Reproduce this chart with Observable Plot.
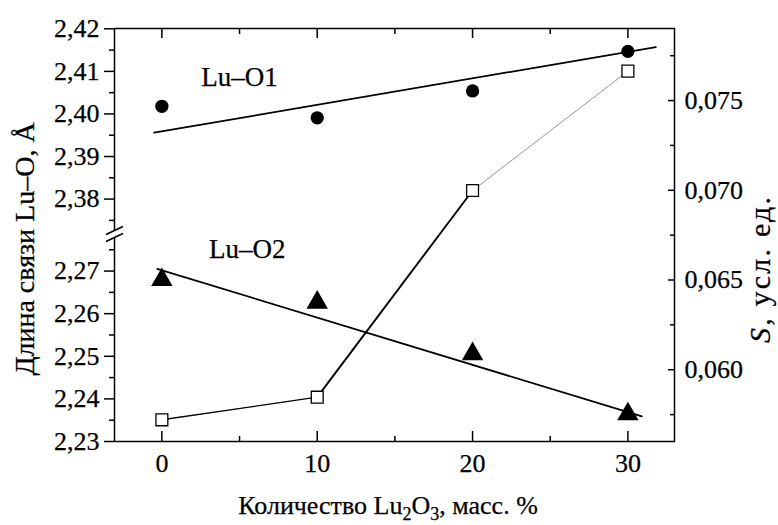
<!DOCTYPE html>
<html><head><meta charset="utf-8">
<script src="https://cdn.jsdelivr.net/npm/d3@7"></script>
<script src="https://cdn.jsdelivr.net/npm/@observablehq/plot@0.6"></script>
<style>
body{margin:0;background:#fff}
#wrap{position:relative;width:778px;height:525px}
#wrap svg{position:absolute;left:0;top:0}
</style>
</head><body><div id="wrap"></div>
<script>
// ---- data ----
const content = [0, 10, 20, 30];                       // Lu2O3, mass %
const luO1 = [2.4018, 2.3991, 2.4054, 2.4147];          // Lu–O1 length, Å
const luO2 = [2.2685, 2.2632, 2.2511, 2.2370];          // Lu–O2 length, Å
const sValues = [0.05721, 0.05847, 0.06999, 0.07664];   // S, arb. units
const fit1X = [-0.5, 31.8], fit1Y = [2.3956, 2.4157];   // Lu–O1 trend line
const fit2X = [-0.3, 30.9], fit2Y = [2.2705, 2.2359];   // Lu–O2 trend line
const xTicks = [0, 10, 20, 30], xMinor = [5, 15, 25];
const yTicks = [2.23, 2.24, 2.25, 2.26, 2.27, 2.38, 2.39, 2.40, 2.41, 2.42];
const yMinor = [2.235, 2.245, 2.255, 2.265, 2.275, 2.375, 2.385, 2.395, 2.405, 2.415];
const sTicks = [0.060, 0.065, 0.070, 0.075];
const sMinor = [0.0575, 0.0625, 0.0675, 0.0725, 0.0775];
const yBreak = [2.325];
const labelText = ["Lu–O1", "Lu–O2"];
const labelX = [5, 5.5];
const labelY = [2.4086, 2.2750];

// ---- layout ----
const FONT = "Liberation Serif";
const W = 778, H = 525, mt = 28, mb = 84, ml = 114, mr = 104;
const xDomain = [-3.05, 33];
const fmt = n => d => d.toFixed(n).replace(".", ",");
const style = {fontFamily: FONT, fontSize: "26px", background: "transparent", color: "black"};
const tickText = {fontFamily: FONT, fontSize: 26, fill: "black", stroke: "black", strokeWidth: 0.25};

const pts1 = content.map((x, i) => ({x, y: luO1[i]}));
const pts2 = content.map((x, i) => ({x, y: luO2[i]}));
const fit1 = fit1X.map((x, i) => ({x, y: fit1Y[i]}));
const fit2 = fit2X.map((x, i) => ({x, y: fit2Y[i]}));
const labels = labelText.map((t, i) => ({t, x: labelX[i], y: labelY[i]}));
const sPts = content.map((x, i) => ({x, s: sValues[i]}));
const sSegs = d3.pairs(sPts).map(([a, b], i) => ({x1: a.x, x2: b.x, y1: a.s, y2: b.s, i}));

const breakFill = {draw(c) { c.moveTo(-8.5, 0.5); c.lineTo(8.5, -7.5); c.lineTo(8.5, -0.5); c.lineTo(-8.5, 7.5); c.closePath(); }};
const breakLines = {draw(c) { c.moveTo(-8.5, 0.5); c.lineTo(8.5, -7.5); c.moveTo(-8.5, 7.5); c.lineTo(8.5, -0.5); }};

const main = Plot.plot({
  width: W, height: H, marginTop: mt, marginBottom: mb, marginLeft: ml, marginRight: mr,
  style,
  x: {domain: xDomain, axis: null},
  y: {type: "linear", domain: [2.23, 2.2787, 2.3718, 2.42], range: [441, 233.5, 233.5, 28.3], axis: null},
  marks: [
    Plot.frame({strokeWidth: 1.5}),
    Plot.axisY(yTicks, {anchor: "left", tickSize: 10, strokeWidth: 1.5, fill: "none"}),
    Plot.axisY(yMinor, {anchor: "left", tickSize: 5, strokeWidth: 1.5, fill: "none"}),
    Plot.text(yTicks, {y: d => d, frameAnchor: "left", dx: -15, textAnchor: "end", text: fmt(2), ...tickText}),
    Plot.text(xTicks, {x: d => d, frameAnchor: "bottom", dy: 12, lineAnchor: "top", text: d => String(d), ...tickText}),
    Plot.axisX(xTicks, {anchor: "bottom", tickSize: -10, strokeWidth: 1.5, fill: "none"}),
    Plot.axisX(xMinor, {anchor: "bottom", tickSize: -5, strokeWidth: 1.5, fill: "none"}),
    Plot.axisX(xTicks, {anchor: "top", tickSize: -9, strokeWidth: 1.5, fill: "none"}),
    Plot.axisX(xMinor, {anchor: "top", tickSize: -5, strokeWidth: 1.5, fill: "none"}),
    Plot.dot(yBreak, {y: d => d, frameAnchor: "left", symbol: breakFill, fill: "white", stroke: "none"}),
    Plot.dot(yBreak, {y: d => d, frameAnchor: "left", symbol: breakLines, fill: "none", stroke: "black", strokeWidth: 1.6}),
    Plot.line(fit1, {x: "x", y: "y", stroke: "black", strokeWidth: 1.7}),
    Plot.line(fit2, {x: "x", y: "y", stroke: "black", strokeWidth: 1.7}),
    Plot.dot(pts1, {x: "x", y: "y", symbol: "circle", r: 6.65, fill: "black", stroke: "none"}),
    Plot.dot(pts2, {x: "x", y: "y", symbol: "triangle", r: 7.97, fill: "black", stroke: "none", dy: 2.4}),
    Plot.text(labels, {x: "x", y: "y", text: "t", textAnchor: "middle", ...tickText, fontSize: 27})
  ]
});

const segWidth = [1.4, 1.9, 0.7], segColor = ["black", "black", "#666"];
const over = Plot.plot({
  width: W, height: H, marginTop: mt, marginBottom: mb, marginLeft: ml, marginRight: mr,
  style,
  x: {domain: xDomain, axis: null},
  y: {domain: [0.056, 0.079], range: [441, 28.3], axis: null},
  marks: [
    Plot.link(sSegs, {x1: "x1", x2: "x2", y1: "y1", y2: "y2", stroke: d => segColor[d.i], strokeWidth: d => segWidth[d.i]}),
    Plot.dot(sPts, {x: "x", y: "s", symbol: "square", r: 6.7, fill: "white", stroke: "black", strokeWidth: 1.3}),
    Plot.text(sTicks, {y: d => d, frameAnchor: "right", dx: 10, textAnchor: "start", text: fmt(3), ...tickText}),
    Plot.axisY(sTicks, {anchor: "right", tickSize: -7, strokeWidth: 1.5, fill: "none"}),
    Plot.axisY(sMinor, {anchor: "right", tickSize: -5, strokeWidth: 1.5, fill: "none"})
  ]
});

const wrap = document.getElementById("wrap");
wrap.appendChild(main);
wrap.appendChild(over);

// axis titles
const svg = d3.select(over);
svg.append("text")
  .attr("transform", "translate(24,249) rotate(-90)")
  .attr("text-anchor", "middle").attr("dy", "0.35em")
  .attr("font-family", FONT).attr("font-size", 28).attr("fill", "black")
  .attr("stroke", "black").attr("stroke-width", 0.25)
  .text("Длина связи Lu–O, Å");
const rt = svg.append("text")
  .attr("transform", "translate(759,270) rotate(-90)")
  .attr("text-anchor", "middle").attr("dy", "0.35em")
  .attr("font-family", FONT).attr("font-size", 30).attr("fill", "black")
  .attr("stroke", "black").attr("stroke-width", 0.25)
  .attr("textLength", 146).attr("lengthAdjust", "spacing");
rt.append("tspan").attr("font-style", "italic").text("S");
rt.append("tspan").text(", усл. ед.");
const xt = svg.append("text")
  .attr("x", 388).attr("y", 514)
  .attr("text-anchor", "middle")
  .attr("font-family", FONT).attr("font-size", 26).attr("fill", "black")
  .attr("stroke", "black").attr("stroke-width", 0.25);
xt.append("tspan").text("Количество Lu");
xt.append("tspan").attr("dy", 6).attr("font-size", 18).text("2");
xt.append("tspan").attr("dy", -6).text("O");
xt.append("tspan").attr("dy", 6).attr("font-size", 18).text("3");
xt.append("tspan").attr("dy", -6).text(", масс. %");
</script>
</body></html>
